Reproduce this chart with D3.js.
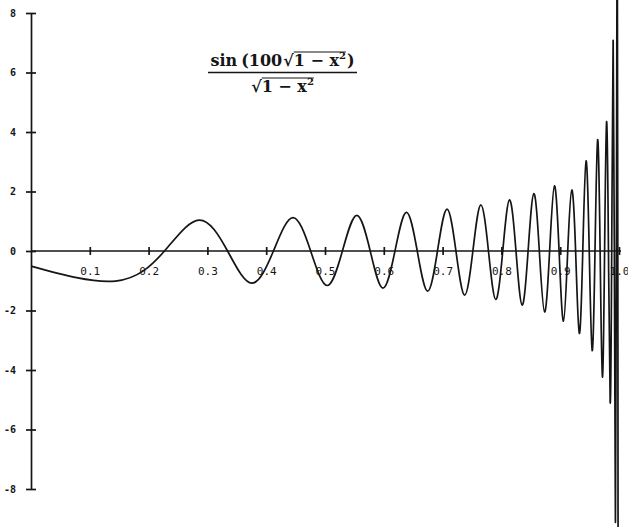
<!DOCTYPE html>
<html lang="en">
<head>
<meta charset="UTF-8">
<title>sin(100√(1−x²)) / √(1−x²)</title>
<script src="https://d3js.org/d3.v7.min.js"></script>
<style>
  body { margin: 0; background: #fff; }
  svg { display: block; background: #fff; }
  .axis path, .axis line { stroke: #151515; stroke-width: 1.7px; }
  .axis text { font-family: "DejaVu Sans Mono", monospace; font-size: 11px; fill: #151515; }
  .yaxis text { font-weight: bold; font-size: 10px; }
  .curve { fill: none; stroke: #151515; stroke-width: 1.7px; }
  .title text { font-family: "DejaVu Serif", serif; font-weight: bold; fill: #151515; }
</style>
</head>
<body>
<svg id="chart" width="628" height="527"></svg>
<script>
// extrema and zero crossings (x from 0 to 1)
const xValues = [
  0.0000, 0.1439, 0.2270, 0.2861, 0.3343, 0.3756, 0.4123, 0.4454, 0.4756, 0.5036,
  0.5296, 0.5540, 0.5769, 0.5985, 0.6190, 0.6384, 0.6569, 0.6745, 0.6913, 0.7074,
  0.7227, 0.7374, 0.7515, 0.7650, 0.7780, 0.7904, 0.8023, 0.8138, 0.8248, 0.8353,
  0.8454, 0.8552, 0.8645, 0.8734, 0.8820, 0.8902, 0.8981, 0.9056, 0.9128, 0.9197,
  0.9262, 0.9325, 0.9384, 0.9440, 0.9494, 0.9544, 0.9592, 0.9637, 0.9679, 0.9718,
  0.9755, 0.9789, 0.9821, 0.9850, 0.9876, 0.9900, 0.9921, 0.9939, 0.9956, 0.9969,
  0.9980, 0.9989
];
const yValues = [
  -0.51, -1.01, 0, 1.04, 0, -1.08, 0, 1.12, 0, -1.16,
  0, 1.20, 0, -1.25, 0, 1.30, 0, -1.35, 0, 1.41,
  0, -1.48, 0, 1.55, 0, -1.63, 0, 1.72, 0, -1.82,
  0, 1.93, 0, -2.05, 0, 2.19, 0, -2.36, 0, 2.05,
  0, -2.77, 0, 3.03, 0, -3.35, 0, 3.74, 0, -4.24,
  0, 4.35, 0, -5.1, 0, 7.07, 0, -9.1, 0, 12.7,
  0, -21.2
];

const xTicks = [0.1, 0.2, 0.3, 0.4, 0.5, 0.6, 0.7, 0.8, 0.9, 1.0];
const xTickLabels = ['0.1', '0.2', '0.3', '0.4', '0.5', '0.6', '0.7', '0.8', '0.9', '1.0'];
const yTicks = [-8, -6, -4, -2, 0, 2, 4, 6, 8];
const yTickLabels = ['-8', '-6', '-4', '-2', '0', '2', '4', '6', '8'];

const svg = d3.select('#chart');

const x = d3.scaleLinear().domain([0, 1]).range([31, 619]);
const y = d3.scaleLinear().domain([-8, 8]).range([489, 13]);

// y axis, ticks cross the line
const gy = svg.append('g')
  .attr('class', 'axis yaxis')
  .attr('transform', `translate(${x(0)},0)`)
  .call(d3.axisLeft(y).tickValues(yTicks)
    .tickFormat((d, i) => yTickLabels[i])
    .tickSize(0).tickSizeOuter(0).tickPadding(15));
gy.selectAll('.tick line').attr('x1', -5).attr('x2', 5);

// x axis on y = 0
const gx = svg.append('g')
  .attr('class', 'axis xaxis')
  .attr('transform', `translate(0,${y(0)})`)
  .call(d3.axisBottom(x).tickValues(xTicks)
    .tickFormat((d, i) => xTickLabels[i])
    .tickSize(0).tickSizeOuter(0));
gx.select('.domain').attr('d', `M${x(0)},0H${x(1) + 2}`);
gx.selectAll('.tick line').attr('y1', -4).attr('y2', 4);
gx.selectAll('.tick text').attr('y', 24).attr('dy', 0);

// the curve
const line = d3.line()
  .x(d => x(d[0]))
  .y(d => y(d[1]))
  .curve(d3.curveNatural);

svg.append('path')
  .datum(d3.zip(xValues, yValues))
  .attr('class', 'curve')
  .attr('d', line);

// formula
const title = svg.append('g').attr('class', 'title');

function mathRow(g, parts, baseline) {
  let cx = 0;
  const bars = [];
  parts.forEach(p => {
    const t = g.append('text')
      .attr('x', cx)
      .attr('y', baseline + (p.dy || 0))
      .attr('font-size', p.size || 16)
      .text(p.t);
    const w = t.node().getComputedTextLength();
    if (p.barStart) bars.push(cx + w);
    if (p.barEnd) bars.push(cx + w);
    cx += w + (p.gap || 0);
  });
  return { width: cx, bars };
}

const num = title.append('g');
const numRow = mathRow(num, [
  { t: 'sin', gap: 4 },
  { t: '(' },
  { t: '100', gap: 1 },
  { t: '√', barStart: true },
  { t: '1 − x' },
  { t: '2', size: 10, dy: -7, barEnd: true, gap: 1 },
  { t: ')' }
], 66);
num.append('line')
  .attr('x1', numRow.bars[0]).attr('x2', numRow.bars[1])
  .attr('y1', 52).attr('y2', 52)
  .attr('stroke', '#151515').attr('stroke-width', 1.2);

const den = title.append('g');
const denRow = mathRow(den, [
  { t: '√', barStart: true },
  { t: '1 − x' },
  { t: '2', size: 10, dy: -7, barEnd: true }
], 92);
den.append('line')
  .attr('x1', denRow.bars[0]).attr('x2', denRow.bars[1])
  .attr('y1', 78).attr('y2', 78)
  .attr('stroke', '#151515').attr('stroke-width', 1.2);

const cxTitle = 282.5;
num.attr('transform', `translate(${cxTitle - numRow.width / 2},0)`);
den.attr('transform', `translate(${cxTitle - denRow.width / 2},0)`);

const fracW = Math.max(numRow.width, 149);
title.append('line')
  .attr('x1', cxTitle - fracW / 2).attr('x2', cxTitle + fracW / 2)
  .attr('y1', 72.5).attr('y2', 72.5)
  .attr('stroke', '#151515').attr('stroke-width', 1.6);
</script>
</body>
</html>
